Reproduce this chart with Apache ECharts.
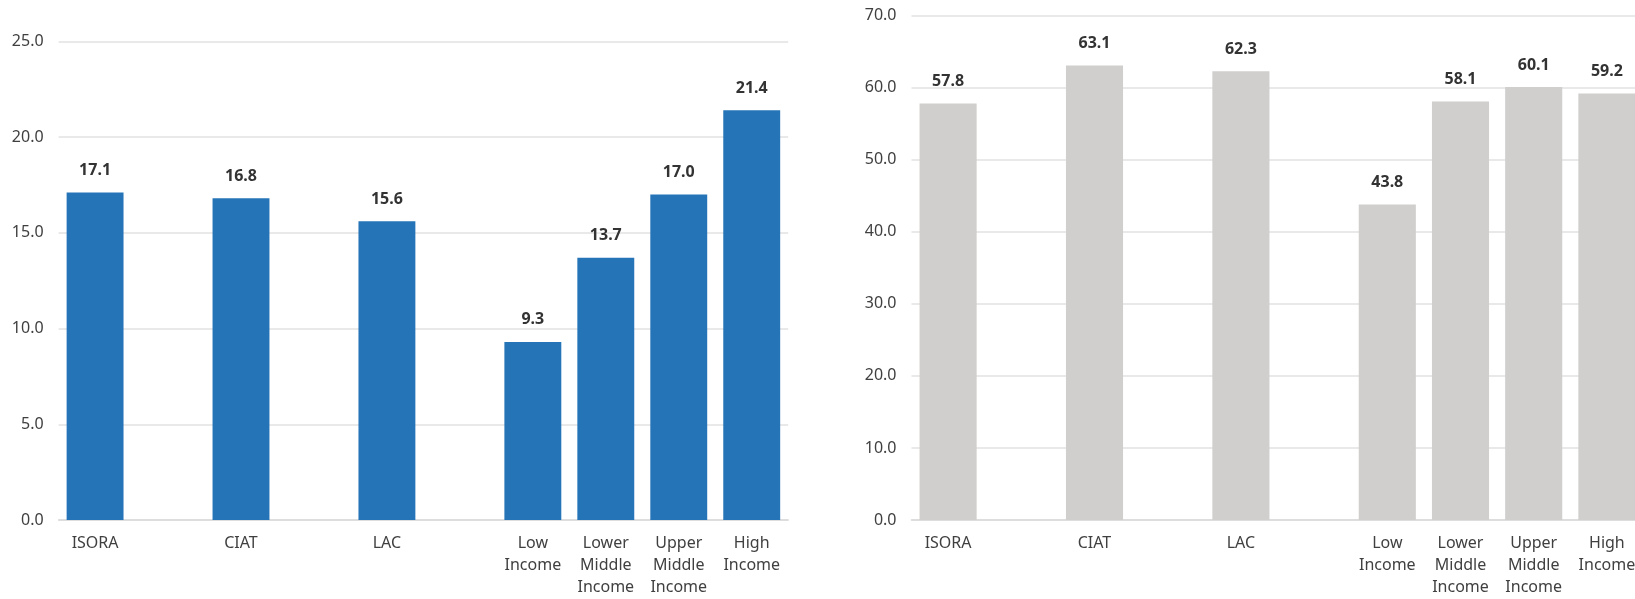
<!DOCTYPE html>
<html>
<head>
<meta charset="utf-8">
<script src="https://cdn.jsdelivr.net/npm/echarts@6/dist/echarts.min.js"></script>
<style>
  html, body { margin: 0; padding: 0; background: #ffffff; overflow: hidden; }
  /* canvas is a little wider than the window so the right panel runs off the edge */
  #chart { width: 1660px; height: 599px; }
</style>
</head>
<body>
<div id="chart"></div>
<script>
// Category slots; empty strings leave a gap between the groups
const categories = ['ISORA', '', 'CIAT', '', 'LAC', '', 'Low Income', 'Lower Middle Income', 'Upper Middle Income', 'High Income'];

// Left panel values ('-' = empty slot)
const leftValues = [17.1, '-', 16.8, '-', 15.6, '-', 9.3, 13.7, 17.0, 21.4];
// Right panel values
const rightValues = [57.8, '-', 63.1, '-', 62.3, '-', 43.8, 58.1, 60.1, 59.2];

// Value axis ranges
const leftAxis = { min: 0, max: 25, interval: 5 };
const rightAxis = { min: 0, max: 70, interval: 10 };

const FONT = '"Noto Sans", "Open Sans", sans-serif';
const TEXT = '#404040';
const GRID_LINE = '#e2e2e2';

function xAxisFor(gridIndex) {
  return {
    type: 'category',
    gridIndex: gridIndex,
    data: categories,
    axisTick: { show: false },
    axisLine: { show: true, lineStyle: { color: '#d9d9d9', width: 1.5 } },
    axisLabel: {
      interval: 0,
      margin: 12,
      color: TEXT,
      fontFamily: FONT,
      fontSize: 16,
      lineHeight: 22,
      verticalAlign: 'top',
      formatter: v => v.split(' ').join('\n')
    }
  };
}

function yAxisFor(gridIndex, range) {
  return {
    type: 'value',
    gridIndex: gridIndex,
    min: range.min,
    max: range.max,
    interval: range.interval,
    axisLine: { show: false },
    axisTick: { show: false },
    splitLine: { lineStyle: { color: GRID_LINE, width: 1.5 } },
    axisLabel: {
      margin: 15,
      color: TEXT,
      fontFamily: FONT,
      fontSize: 16,
      formatter: v => v.toFixed(1)
    }
  };
}

function barSeries(index, values, color) {
  return {
    type: 'bar',
    xAxisIndex: index,
    yAxisIndex: index,
    data: values,
    barCategoryGap: '22%',
    itemStyle: { color: color },
    label: {
      show: true,
      position: 'top',
      distance: 14,
      color: '#333333',
      fontFamily: FONT,
      fontSize: 16,
      fontWeight: 'bold',
      formatter: p => Number(p.value).toFixed(1)
    },
    animation: false
  };
}

const chart = echarts.init(document.getElementById('chart'), null, { renderer: 'canvas' });
chart.setOption({
  backgroundColor: '#ffffff',
  animation: false,
  grid: [
    { left: 58.6, top: 41.3, width: 729.6, height: 478.7 },
    { left: 911.5, top: 15.7, width: 732, height: 504.3 }
  ],
  xAxis: [xAxisFor(0), xAxisFor(1)],
  yAxis: [yAxisFor(0, leftAxis), yAxisFor(1, rightAxis)],
  series: [
    barSeries(0, leftValues, '#2574b7'),
    barSeries(1, rightValues, '#d0cfcd')
  ]
});
</script>
</body>
</html>
